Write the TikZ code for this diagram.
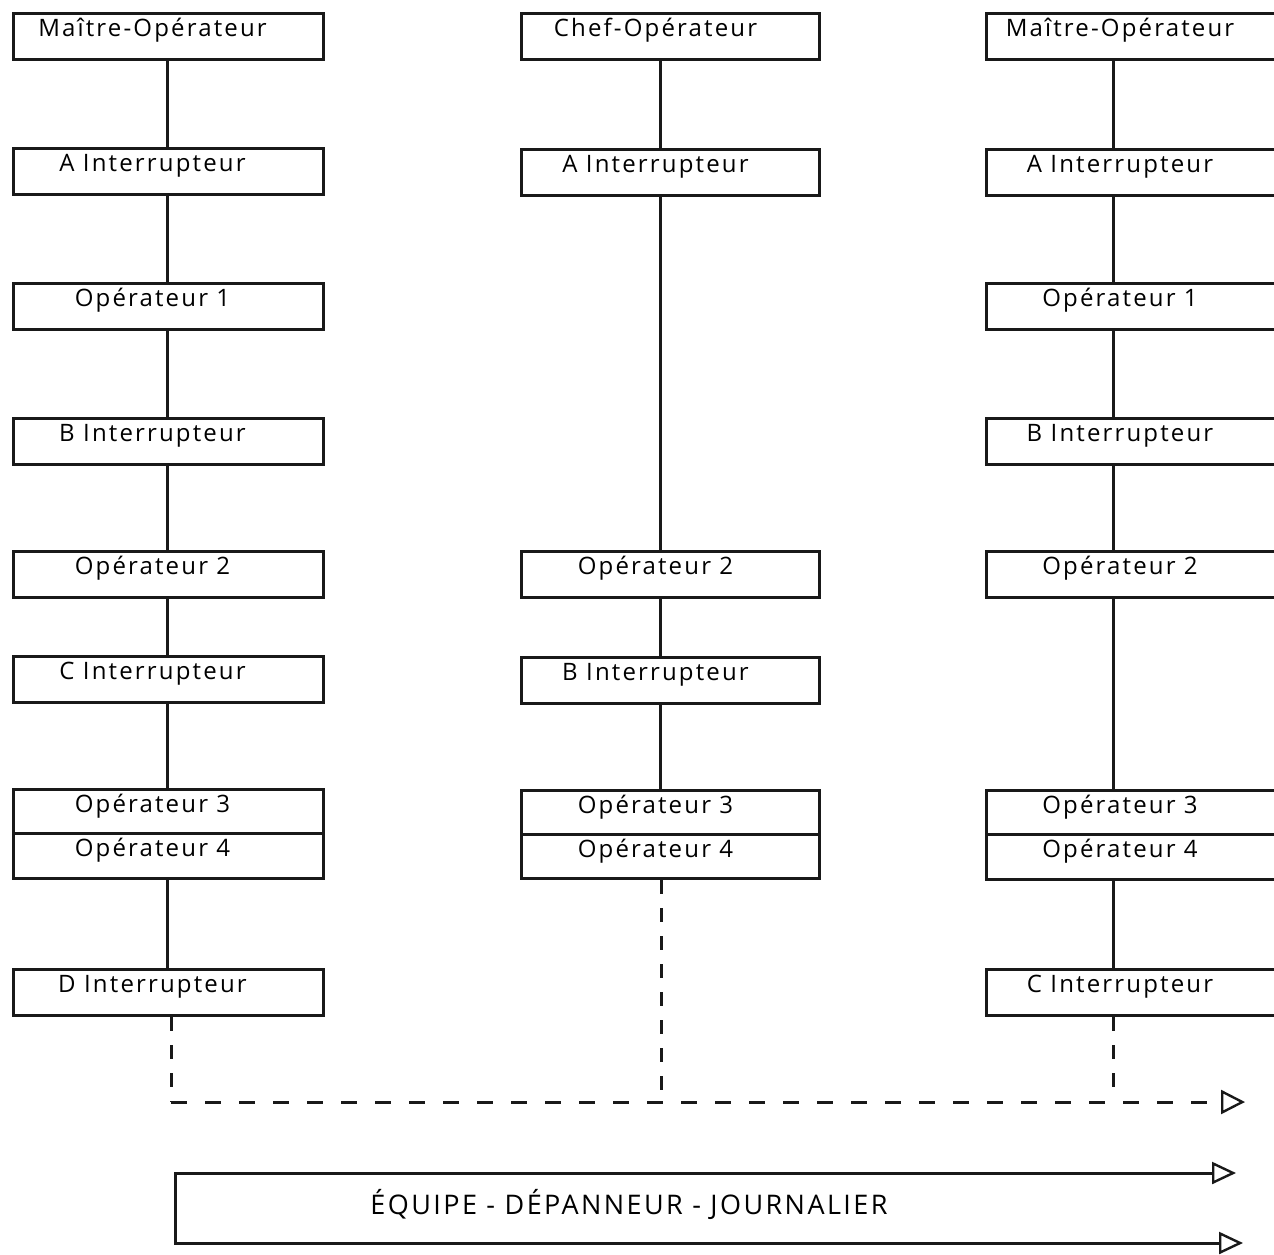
\documentclass[tikz,border=0pt]{standalone}
\usepackage{fontspec}
\setmainfont{Open Sans}[LetterSpace=9]
\usetikzlibrary{arrows.meta,calc}
\tikzset{
  boxn/.style={draw=black!90, line width=1.5pt, rectangle, anchor=north west, minimum height=23pt, inner sep=0pt},
  lbl/.style={anchor=base, inner sep=0pt, font=\fontsize{12pt}{14pt}\selectfont, text=black},
  conn/.style={line width=1.5pt, draw=black!90},
  dconn/.style={line width=1.5pt, draw=black!90, dash pattern=on 8pt off 9pt},
  vdconn/.style={line width=1.5pt, draw=black!90, dash pattern=on 7pt off 7pt},
  tip/.style={-{Triangle[open, length=12pt, width=12pt, line width=1.2pt]}},
}
\newcommand\obox[7][23pt]{% [height], name, xleft, ytop, width(px), text, text dx
  \node[boxn, minimum width=#5*0.5pt, minimum height=#1] (#2) at (#3,#4) {};
  \node[lbl] (#2t) at ($(#2.north)+(#7,24)$) {#6};
}
\begin{document}
\begin{tikzpicture}[x=0.5pt, y=-0.5pt]
\useasboundingbox (0,0) rectangle (1274,1254);
\fill[white] (0,0) rectangle (1274,1254);
% line x positions
\coordinate (lx) at (167,0);
\coordinate (mx) at (660,0);
\coordinate (rx) at (1113,0);
% left column
\obox{lm}{12}{12}{310}{Maître-Opérateur}{-16}
\obox{la}{12}{147}{310}{A Interrupteur}{-16}
\obox{lo1}{12}{282}{310}{Opérateur 1}{-16}
\obox{lb}{12}{417}{310}{B Interrupteur}{-16}
\obox{lo2}{12}{550}{310}{Opérateur 2}{-16}
\obox{lc}{12}{655}{310}{C Interrupteur}{-16}
\obox[22pt]{lo3}{12}{788}{310}{Opérateur 3}{-16}
\obox[22.5pt]{lo4}{12}{832}{310}{Opérateur 4}{-16}
\obox{ld}{12}{968}{310}{D Interrupteur}{-16}
% middle column
\obox{mc}{520}{12}{298}{Chef-Opérateur}{-15}
\obox{ma}{520}{148}{298}{A Interrupteur}{-15}
\obox{mo2}{520}{550}{298}{Opérateur 2}{-15}
\obox{mb}{520}{656}{298}{B Interrupteur}{-15}
\obox[22pt]{mo3}{520}{789}{298}{Opérateur 3}{-15}
\obox[22pt]{mo4}{520}{833}{298}{Opérateur 4}{-15}
% right column
\obox{rm}{985}{12}{305}{Maître-Opérateur}{-19}
\obox{ra}{985}{148}{305}{A Interrupteur}{-19}
\obox{ro1}{985}{282}{305}{Opérateur 1}{-19}
\obox{rb}{985}{417}{305}{B Interrupteur}{-19}
\obox{ro2}{985}{550}{305}{Opérateur 2}{-19}
\obox[22pt]{ro3}{985}{789}{305}{Opérateur 3}{-19}
\obox[22.5pt]{ro4}{985}{833}{305}{Opérateur 4}{-19}
\obox{rc}{985}{968}{305}{C Interrupteur}{-19}
% left connectors
\foreach \a/\b in {lm/la, la/lo1, lo1/lb, lb/lo2, lo2/lc, lc/lo3, lo4/ld}
  \draw[conn] (\a.south -| lx) -- (\b.north -| lx);
% middle connectors
\foreach \a/\b in {mc/ma, ma/mo2, mo2/mb, mb/mo3}
  \draw[conn] (\a.south -| mx) -- (\b.north -| mx);
% right connectors
\foreach \a/\b in {rm/ra, ra/ro1, ro1/rb, rb/ro2, ro2/ro3, ro4/rc}
  \draw[conn] (\a.south -| rx) -- (\b.north -| rx);
% dashed collector
\coordinate (dstart) at (171,1102);
\coordinate (dmid) at (661,1102);
\coordinate (rend) at (1113,1094);
\coordinate (dend) at (1245,1102);
\draw[vdconn] (ld.south -| dstart) -- (dstart);
\draw[vdconn] (mo4.south -| dmid) -- (dmid);
\draw[vdconn] (rc.south -| rend) -- (rend);
\draw[dconn, tip] (dstart) -- (dend);
% bottom box
\coordinate (eqtl) at (175,1173);
\coordinate (eqbl) at (175,1243);
\coordinate (eqtr) at (1236,1173);
\coordinate (eqbr) at (1243,1243);
\draw[conn, {Triangle[open, length=12pt, width=11pt, line width=1.2pt]}-{Triangle[open, length=12pt, width=11pt, line width=1.2pt]}] (eqtr) -- (eqtl) -- (eqbl) -- (eqbr);
\node[lbl, font=\fontsize{13.5pt}{16pt}\selectfont] (eq) at (629,1214) {ÉQUIPE - DÉPANNEUR - JOURNALIER};
\end{tikzpicture}
\end{document}
